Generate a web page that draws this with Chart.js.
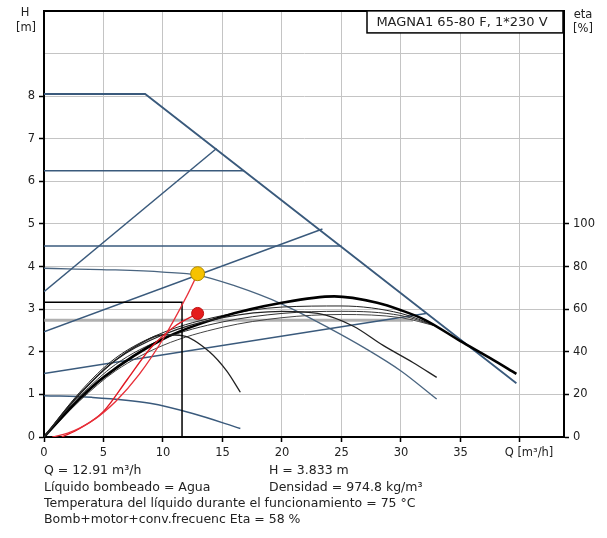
<!DOCTYPE html>
<html><head><meta charset="utf-8">
<script src="https://cdn.jsdelivr.net/npm/chart.js@4.4.0/dist/chart.umd.min.js"></script>
<style>html,body{margin:0;padding:0;background:#fff;}canvas{display:block;}</style>
</head><body>
<canvas id="c" width="607" height="538"></canvas>
<script>
// ---- tick labels ----
const xTicks = [0, 5, 10, 15, 20, 25, 30, 35, 40];
const yTicks = [0, 1, 2, 3, 4, 5, 6, 7, 8, 9, 10];
const yLabelMax = 8;
const etaTicks = [0, 20, 40, 60, 80, 100];

// ---- head curves (Q [m3/h], H [m]) ----
const maxCurve = [[0, 8.05], [8.5, 8.05], [39.7, 1.26]];
const constPressHigh = [[0, 6.25], [16.8, 6.25]];
const constPressMid = [[0, 4.48], [25, 4.48]];
const propPressHigh = [[0, 3.41], [14.5, 6.77]];
const propPressMid = [[0, 2.47], [23.4, 4.88]];
const propPressLow = [[0, 1.49], [32.1, 2.9]];
const greyLine = [[0, 2.74], [31, 2.74]];
const speedCurveDuty = [[0, 3.96], [6, 3.92], [10, 3.87], [12.91, 3.8], [16, 3.55], [20, 3.12], [24, 2.55], [27, 2.08], [30, 1.55], [33, 0.89]];
const minCurve = [[0, 0.97], [4, 0.93], [8.9, 0.79], [12.5, 0.55], [16.5, 0.2]];
const systemCurve = [[0.7, 0], [2, 0.09], [4, 0.37], [6, 0.83], [8, 1.47], [10, 2.3], [12, 3.31], [12.91, 3.833]];
const dutyH = [[0, 3.16], [11.6, 3.16], [11.6, 0]];
const dutyPoint = [[12.91, 3.833]];

// ---- efficiency curves (Q [m3/h], eta [%]) ----
const etaMaxSpeed = [[0, 0], [3, 18], [5, 28], [10, 46], [15, 56.5], [20, 63], [24.4, 66], [28, 63], [30, 59.5], [32, 55], [35, 45], [37.5, 37], [39.7, 29.6]];
const etaMidSpeed = [[0, 0], [3, 20], [6, 36], [10, 48], [15, 56], [20, 59], [23, 58], [26, 52], [28.5, 43], [31, 35], [33, 28]];
const etaLowSpeed = [[0, 0], [2, 14], [4, 26], [6, 36], [8, 43.5], [10, 48], [11.7, 47.5], [13.9, 40], [15.35, 31], [16.5, 21]];
const etaModeA = [[0, 0], [3, 19], [6, 34], [10, 46], [15, 54], [20, 58], [25, 59], [30, 57], [33, 52]];
const etaModeB = [[0, 0], [3, 17], [6, 31], [10, 43], [15, 51.5], [20, 56], [25, 57.5], [30, 56], [33, 52]];
const etaModeC = [[0, 0], [3, 21], [6, 37], [10, 49], [15, 57], [20, 61], [25, 61.5], [30, 58], [33, 52]];
const etaSystem = [[1.5, 0], [3, 4], [5, 12], [7, 27], [9, 42], [11, 52], [12.91, 58]];
const etaPoint = [[12.91, 58]];

const BLUE = '#3a5a7c';
const FONT = '"DejaVu Sans", Verdana, sans-serif';

function line(pts, color, width, axis, smooth, order) {
  return {
    data: pts.map(p => ({x: p[0], y: p[1]})),
    showLine: true, borderColor: color, borderWidth: width, pointRadius: 0,
    yAxisID: axis, tension: smooth ? 0.4 : 0,
    cubicInterpolationMode: smooth ? 'monotone' : 'default',
    fill: false, order: order
  };
}
function marker(pts, fill, stroke, r, axis) {
  return {
    data: pts.map(p => ({x: p[0], y: p[1]})), showLine: false,
    pointRadius: r, pointBackgroundColor: fill, pointBorderColor: stroke,
    pointBorderWidth: 1, yAxisID: axis, order: 0
  };
}

const datasets = [
  line(greyLine, 'rgba(150,150,150,0.75)', 3, 'y', false, 6),
  line(maxCurve, BLUE, 1.8, 'y', false, 5),
  line(constPressHigh, BLUE, 1.5, 'y', false, 5),
  line(constPressMid, BLUE, 1.5, 'y', false, 5),
  line(propPressHigh, BLUE, 1.5, 'y', false, 5),
  line(propPressMid, BLUE, 1.5, 'y', false, 5),
  line(propPressLow, BLUE, 1.5, 'y', false, 5),
  line(speedCurveDuty, '#4a6580', 1.3, 'y', true, 5),
  line(minCurve, BLUE, 1.5, 'y', true, 5),
  line(etaModeA, '#333', 1, 'y2', true, 4),
  line(etaModeB, '#444', 1, 'y2', true, 4),
  line(etaModeC, '#222', 1, 'y2', true, 4),
  line(etaLowSpeed, '#222', 1.3, 'y2', true, 3),
  line(etaMidSpeed, '#222', 1.3, 'y2', true, 3),
  line(etaMaxSpeed, '#000', 2.6, 'y2', true, 3),
  line(dutyH, '#000', 1.5, 'y', false, 2),
  line(systemCurve, '#e8303a', 1.4, 'y', true, 1),
  line(etaSystem, '#e01822', 1.4, 'y2', true, 1),
  marker(dutyPoint, '#f6c200', '#b08a00', 7, 'y'),
  marker(etaPoint, '#e41c1c', '#c01010', 6, 'y2')
];

const gridColor = '#c4c4c4';
const tickFont = {family: FONT, size: 11.5};

const textPlugin = {
  id: 'texts',
  afterDraw(chart) {
    const ctx = chart.ctx, a = chart.chartArea;
    ctx.save();
    // top frame
    ctx.strokeStyle = '#000'; ctx.lineWidth = 2;
    ctx.beginPath(); ctx.moveTo(a.left - 1, a.top); ctx.lineTo(a.right + 1, a.top); ctx.stroke();
    // title box
    const bx = a.right - 197, by = a.top, bw = 196, bh = 22;
    ctx.fillStyle = '#fff'; ctx.fillRect(bx, by, bw, bh);
    ctx.lineWidth = 1.5; ctx.strokeRect(bx, by, bw, bh);
    ctx.fillStyle = '#222'; ctx.textBaseline = 'middle';
    ctx.font = '13px ' + FONT; ctx.textAlign = 'center';
    ctx.fillText('MAGNA1 65-80 F, 1*230 V', bx + bw / 2 - 3, by + bh / 2 + 0.5);
    // axis titles
    ctx.font = '11.5px ' + FONT;
    ctx.fillText('H', 25, 13);
    ctx.fillText('[m]', 26, 28);
    ctx.fillText('eta', 583, 15);
    ctx.fillText('[%]', 583, 29);
    ctx.fillText('Q [m\u00b3/h]', a.right - 35, a.bottom + 16);
    // info texts
    ctx.textAlign = 'left';
    ctx.font = '12.5px ' + FONT;
    const c1 = a.left, c2 = 269;
    ctx.fillText('Q = 12.91 m\u00b3/h', c1, 471);
    ctx.fillText('H = 3.833 m', c2, 471);
    ctx.fillText('L\u00edquido bombeado = Agua', c1, 488);
    ctx.fillText('Densidad = 974.8 kg/m\u00b3', c2, 488);
    ctx.fillText('Temperatura del l\u00edquido durante el funcionamiento = 75 \u00b0C', c1, 504);
    ctx.fillText('Bomb+motor+conv.frecuenc Eta = 58 %', c1, 520);
    ctx.restore();
  }
};

new Chart(document.getElementById('c'), {
  type: 'scatter',
  data: {datasets},
  options: {
    responsive: false, animation: false, devicePixelRatio: 1,
    layout: {padding: {top: 10, left: 0, right: 0, bottom: 0}},
    plugins: {legend: {display: false}, tooltip: {enabled: false}},
    scales: {
      x: {
        type: 'linear', min: 0, max: 43.7, position: 'bottom',
        afterBuildTicks: s => { s.ticks = xTicks.map(v => ({value: v})); },
        afterFit: s => { s.height = 101; },
        ticks: {font: tickFont, color: '#222', padding: 4, maxRotation: 0, autoSkip: false,
                callback: v => (v === 40 ? '' : String(v))},
        grid: {color: gridColor, lineWidth: 1, tickLength: 5, tickColor: '#000', tickWidth: 1.5},
        border: {color: '#000', width: 2}
      },
      y: {
        type: 'linear', min: 0, max: 10, position: 'left',
        afterBuildTicks: s => { s.ticks = yTicks.map(v => ({value: v})); },
        afterFit: s => { s.width = 44; },
        ticks: {font: tickFont, color: '#222', padding: 4, autoSkip: false,
                callback: v => (v <= yLabelMax ? String(v) : '')},
        grid: {color: gridColor, lineWidth: 1, tickLength: 5, tickColor: (c) => (c.tick && c.tick.value <= yLabelMax ? '#000' : 'rgba(0,0,0,0)'), tickWidth: 1.5},
        border: {color: '#000', width: 2}
      },
      y2: {
        type: 'linear', min: 0, max: 200, position: 'right',
        afterBuildTicks: s => { s.ticks = etaTicks.map(v => ({value: v})); },
        afterFit: s => { s.width = 43; },
        ticks: {font: tickFont, color: '#222', padding: 4, autoSkip: false},
        grid: {drawOnChartArea: false, tickLength: 5, tickColor: '#000', tickWidth: 1.5},
        border: {color: '#000', width: 2}
      }
    }
  },
  plugins: [textPlugin]
});
</script>
</body></html>
